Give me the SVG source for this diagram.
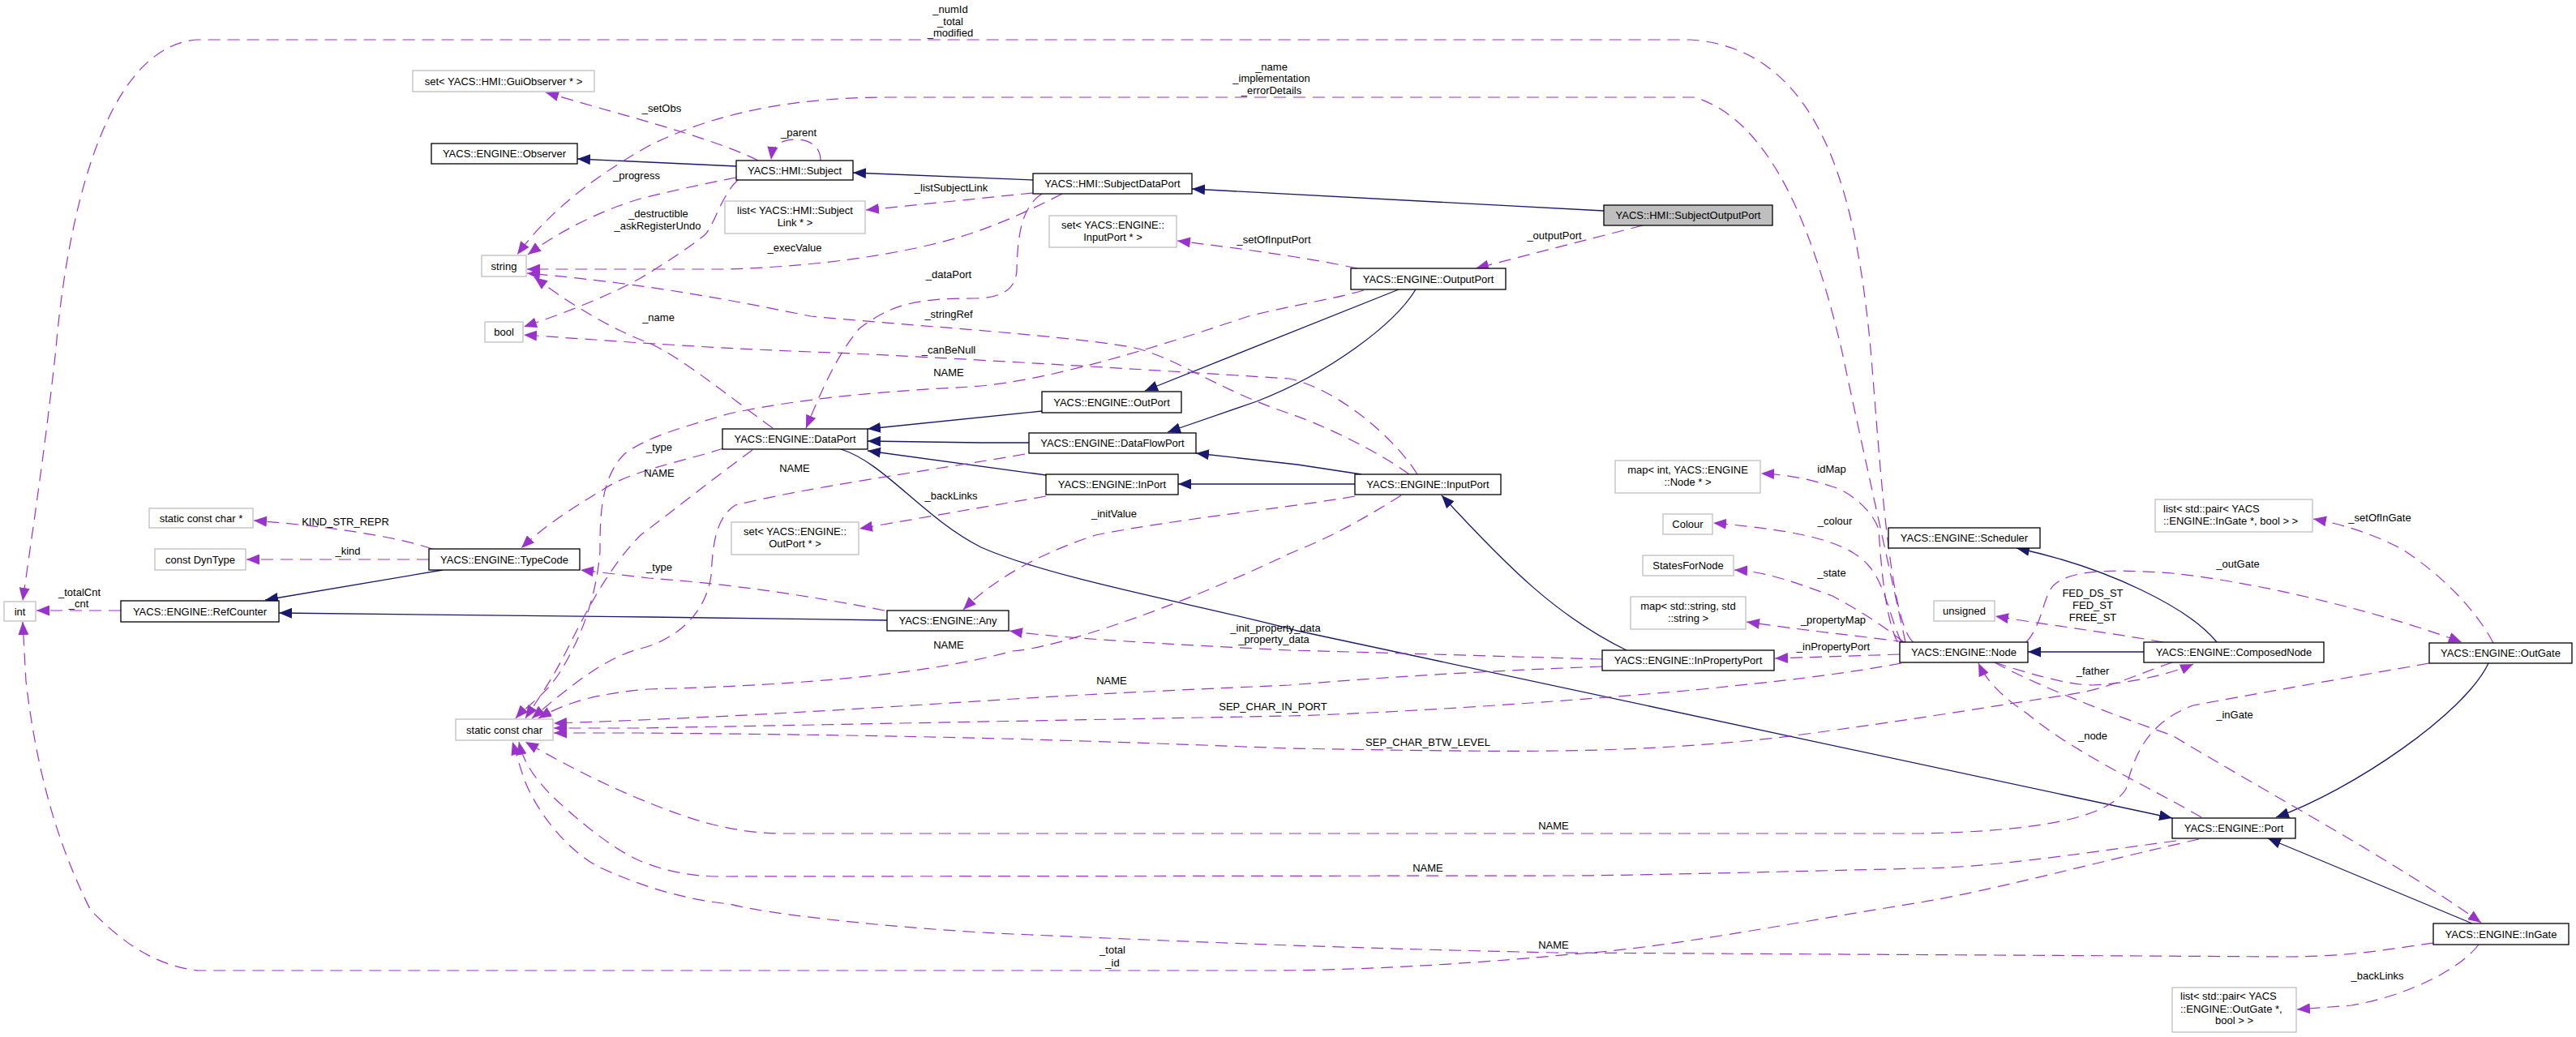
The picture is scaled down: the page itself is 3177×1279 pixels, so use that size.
<svg xmlns="http://www.w3.org/2000/svg" width="3177" height="1279" viewBox="0 0 3177 1279">
<style>
text{font-family:"Liberation Sans",Arial,sans-serif;font-size:13px;fill:#000}
.nd rect{fill:#fff;stroke:#000;stroke-width:1.3}
.gr rect{fill:#fff;stroke:#bfbfbf;stroke-width:1.3}
.hl rect{fill:#bfbfbf;stroke:#000;stroke-width:1.3}
.c{text-anchor:middle}
.inh{fill:none;stroke:#191970;stroke-width:1.3;marker-end:url(#ai)}
.use{fill:none;stroke:#9a32cd;stroke-width:1.2;stroke-dasharray:15,9;marker-end:url(#au)}
</style>
<defs>
<marker id="ai" markerUnits="userSpaceOnUse" markerWidth="17" markerHeight="13" refX="16" refY="6.5" orient="auto"><path d="M0,0 L16,6.5 L0,13 z" fill="#191970"/></marker>
<marker id="au" markerUnits="userSpaceOnUse" markerWidth="17" markerHeight="13" refX="16" refY="6.5" orient="auto"><path d="M0,0 L16,6.5 L0,13 z" fill="#9a32cd"/></marker>
</defs>
<rect width="3177" height="1279" fill="#fff"/>
<g id="connectors">
<path class="inh" d="M908,205 L800,200 L712,196"/>
<path class="inh" d="M1274,222 L1052,213"/>
<path class="inh" d="M1978,260 L1470,233"/>
<path class="inh" d="M1285,507 L1070,529"/>
<path class="inh" d="M1269,546 L1210,546 L1070,544"/>
<path class="inh" d="M1290,586 L1070,556"/>
<path class="inh" d="M1725,357 L1412,482"/>
<path class="inh" d="M1746,357 C1720,400 1640,460 1550,495 L1440,533"/>
<path class="inh" d="M1679,585 L1600,573 L1475,559"/>
<path class="inh" d="M1671,597 L1453,597"/>
<path class="inh" d="M2006,802 C1920,760 1860,700 1778,611"/>
<path class="inh" d="M546,703 L327,740"/>
<path class="inh" d="M1094,765 L800,761 L344,756"/>
<path class="inh" d="M2644,804 L2501,804"/>
<path class="inh" d="M2734,792 C2700,750 2600,700 2487,676"/>
<path class="inh" d="M1037,554 C1090,570 1140,640 1210,675 C1300,715 1500,750 1600,778 L2679,1009"/>
<path class="inh" d="M3069,818 C3040,880 2900,975 2807,1008"/>
<path class="inh" d="M3049,1139 L2797,1034"/>

<path class="use" d="M2360,792 C2330,770 2318,560 2307,430 C2290,250 2250,60 2085,49 L242,49 C120,60 80,300 69,430 C55,560 35,690 28,741"/>
<path class="use" d="M2350,792 C2330,700 2290,520 2271,430 C2240,300 2190,150 2090,120 L1096,120 C950,120 860,150 800,180 C720,225 670,270 638,314"/>
<path class="use" d="M935,198 C880,170 760,140 673,114"/>
<path class="use" d="M1012,198 C1012,178 995,172 981,172 C962,172 953,180 951,197"/>
<path class="use" d="M908,219 C860,228 810,240 790,245 C740,260 690,285 651,314"/>
<path class="use" d="M910,222 C890,240 880,280 869,290 C850,305 820,325 790,343 C750,365 700,385 646,403"/>
<path class="use" d="M1274,238 L1068,259"/>
<path class="use" d="M1310,239 C1250,270 1200,290 1147,302 C1050,325 950,330 900,332 L650,332"/>
<path class="use" d="M1285,239 C1260,255 1255,290 1254,333 C1253,360 1230,368 1200,368 C1130,368 1100,375 1060,405 C1030,440 1010,490 994,528"/>
<path class="use" d="M2026,278 L1820,331"/>
<path class="use" d="M1674,331 C1600,315 1500,303 1452,297"/>
<path class="use" d="M953,528 C900,490 840,440 800,423 C740,400 690,365 659,342"/>
<path class="use" d="M1738,585 C1690,550 1620,520 1590,510 C1500,480 1450,440 1395,428 C1300,412 1100,400 1000,390 C900,370 800,350 650,337"/>
<path class="use" d="M1748,585 C1720,540 1650,480 1590,467 C1400,455 1100,437 1000,434 C850,428 750,420 646,413"/>
<path class="use" d="M1682,358 C1640,370 1600,375 1540,390 C1450,420 1300,470 1198,477 C1100,482 994,490 900,510 C850,525 800,537 770,560 C740,590 740,640 740,680 C735,740 715,790 690,830 C670,860 650,870 636,886"/>
<path class="use" d="M892,553 C840,570 780,580 745,603 C700,630 670,650 643,676"/>
<path class="use" d="M928,555 C880,590 830,630 790,660 C750,700 720,760 700,800 C680,840 665,860 648,886"/>
<path class="use" d="M1264,560 C1150,580 1000,600 907,623 C880,640 879,680 877,710 C870,760 830,790 790,800 C750,810 710,840 656,886"/>
<path class="use" d="M1290,612 L1060,652"/>
<path class="use" d="M1671,612 C1600,625 1450,640 1351,660 C1290,680 1230,710 1188,752"/>
<path class="use" d="M1091,753 C1000,735 900,720 800,713 L716,703"/>
<path class="use" d="M1728,611 C1650,660 1620,670 1590,683 C1450,750 1300,800 1249,803 C1150,830 1000,845 800,850 C740,855 700,865 664,886"/>
<path class="use" d="M1976,813 C1800,808 1600,802 1590,802 C1450,795 1300,787 1245,778"/>
<path class="use" d="M1976,822 C1850,827 1733,833 1590,845 C1500,849 1402,853 1250,862 C1096,872 900,885 683,892"/>
<path class="use" d="M2345,818 C2250,835 2192,840 2100,850 C1900,868 1700,880 1590,883 L790,898 L683,898"/>
<path class="use" d="M2679,817 C2640,830 2600,850 2550,857 C2450,872 2380,885 2192,910 C2000,930 1886,928 1590,923 C1300,912 1147,907 790,904 L683,904"/>
<path class="use" d="M2996,818 C2900,835 2813,850 2705,870 C2650,890 2632,930 2622,973 C2600,1010 2509,1025 2370,1028 L969,1028 C900,1028 850,1010 800,990 C750,970 700,945 648,915"/>
<path class="use" d="M2684,1037 C2550,1055 2450,1070 2370,1071 C2200,1075 2000,1080 1937,1080 L882,1081 C840,1080 810,1070 790,1062 C750,1045 700,1000 679,980 C660,960 645,940 640,915"/>
<path class="use" d="M3001,1163 C2950,1170 2900,1180 2818,1180 L1917,1175 C1700,1170 1590,1167 1249,1152 C1100,1145 943,1127 900,1115 C850,1110 800,1097 740,1070 C700,1050 660,1000 645,957 L632,915"/>
<path class="use" d="M2712,1035 C2600,1060 2450,1100 2368,1113 C2200,1140 2050,1170 1937,1177 C1800,1190 1680,1196 1580,1197 L245,1197 C180,1190 140,1150 112,1123 C70,1040 45,950 32,840 L28,767"/>
<path class="use" d="M533,677 C500,665 420,650 313,642"/>
<path class="use" d="M529,690 L304,690"/>
<path class="use" d="M149,753 L45,753"/>
<path class="use" d="M2340,792 C2325,760 2320,700 2317,653 C2310,630 2280,605 2259,600 C2230,590 2200,585 2172,584"/>
<path class="use" d="M2345,792 C2330,760 2325,720 2304,697 C2280,670 2230,655 2113,645"/>
<path class="use" d="M2348,792 C2320,770 2300,757 2260,735 C2218,720 2180,705 2139,703"/>
<path class="use" d="M2350,792 C2300,785 2243,780 2154,767"/>
<path class="use" d="M2343,807 L2189,812"/>
<path class="use" d="M2668,792 C2600,780 2520,770 2461,760"/>
<path class="use" d="M2499,792 C2520,770 2520,730 2535,720 C2560,700 2620,703 2679,707 C2800,720 2950,760 3036,792"/>
<path class="use" d="M3075,793 C3054,753 3013,710 2962,677 C2920,655 2880,645 2853,640"/>
<path class="use" d="M2460,817 C2500,830 2550,845 2581,845 C2630,843 2680,830 2705,819"/>
<path class="use" d="M2715,1008 C2650,970 2560,930 2500,880 C2470,860 2450,840 2440,818"/>
<path class="use" d="M2460,817 C2500,840 2600,880 2679,907 C2800,980 2950,1060 3060,1138"/>
<path class="use" d="M3057,1165 C3030,1200 2960,1230 2900,1240 L2833,1245"/>
</g>
<g id="labels" class="c">
<text x="1172" y="16" class="c">_numId</text><text x="1172" y="31" class="c">_total</text><text x="1172" y="45" class="c">_modified</text>
<text x="1568" y="87" class="c">_name</text><text x="1568" y="101" class="c">_implementation</text><text x="1568" y="116" class="c">_errorDetails</text>
<text x="816" y="138" class="c">_setObs</text>
<text x="985" y="168" class="c">_parent</text>
<text x="785" y="221" class="c">_progress</text>
<text x="812" y="268" class="c">_destructible</text><text x="811" y="283" class="c">_askRegisterUndo</text>
<text x="1173" y="236" class="c">_listSubjectLink</text>
<text x="980" y="310" class="c">_execValue</text>
<text x="1170" y="343" class="c">_dataPort</text>
<text x="1917" y="295" class="c">_outputPort</text>
<text x="1571" y="300" class="c">_setOfInputPort</text>
<text x="812" y="396" class="c">_name</text>
<text x="1170" y="392" class="c">_stringRef</text>
<text x="1170" y="436" class="c">_canBeNull</text>
<text x="1170" y="464" class="c">NAME</text>
<text x="813" y="556" class="c">_type</text>
<text x="813" y="588" class="c">NAME</text>
<text x="980" y="582" class="c">NAME</text>
<text x="1173" y="616" class="c">_backLinks</text>
<text x="1374" y="638" class="c">_initValue</text>
<text x="813" y="704" class="c">_type</text>
<text x="1170" y="800" class="c">NAME</text>
<text x="1573" y="779" class="c">_init_property_data</text><text x="1571" y="793" class="c">_property_data</text>
<text x="1371" y="844" class="c">NAME</text>
<text x="1570" y="876" class="c">SEP_CHAR_IN_PORT</text>
<text x="1761" y="920" class="c">SEP_CHAR_BTW_LEVEL</text>
<text x="1916" y="1023" class="c">NAME</text>
<text x="1761" y="1075" class="c">NAME</text>
<text x="1916" y="1170" class="c">NAME</text>
<text x="1372" y="1176" class="c">_total</text><text x="1372" y="1192" class="c">_id</text>
<text x="426" y="648" class="c">KIND_STR_REPR</text>
<text x="429" y="684" class="c">_kind</text>
<text x="98" y="735" class="c">_totalCnt</text><text x="97" y="749" class="c">_cnt</text>
<text x="2259" y="583" class="c">idMap</text>
<text x="2263" y="647" class="c">_colour</text>
<text x="2259" y="711" class="c">_state</text>
<text x="2261" y="769" class="c">_propertyMap</text>
<text x="2261" y="802" class="c">_inPropertyPort</text>
<text x="2581" y="736" class="c">FED_DS_ST</text><text x="2581" y="751" class="c">FED_ST</text><text x="2581" y="766" class="c">FREE_ST</text>
<text x="2760" y="700" class="c">_outGate</text>
<text x="2935" y="643" class="c">_setOfInGate</text>
<text x="2581" y="832" class="c">_father</text>
<text x="2581" y="912" class="c">_node</text>
<text x="2756" y="886" class="c">_inGate</text>
<text x="2932" y="1208" class="c">_backLinks</text>
</g>
<g id="n_setGuiObs" class="gr"><rect x="509" y="87" width="224" height="26"/><text x="621" y="104.5" class="c">set&lt; YACS::HMI::GuiObserver * &gt;</text></g>
<g id="n_observer" class="nd"><rect x="532" y="177" width="180" height="25"/><text x="622" y="194" class="c">YACS::ENGINE::Observer</text></g>
<g id="n_string" class="gr"><rect x="594" y="315" width="55" height="26"/><text x="621.5" y="332.5" class="c">string</text></g>
<g id="n_bool" class="gr"><rect x="598" y="397" width="47" height="25"/><text x="621.5" y="414" class="c">bool</text></g>
<g id="n_subject" class="nd"><rect x="908" y="198" width="144" height="24"/><text x="980" y="214.5" class="c">YACS::HMI::Subject</text></g>
<g id="n_subjectDataPort" class="nd"><rect x="1274" y="214" width="196" height="25"/><text x="1372" y="231" class="c">YACS::HMI::SubjectDataPort</text></g>
<g id="n_listSubjectLink" class="gr"><rect x="894" y="248" width="173" height="40"/><text x="980.5" y="264" class="c">list&lt; YACS::HMI::Subject</text><text x="980.5" y="279" class="c">Link * &gt;</text></g>
<g id="n_setInputPort" class="gr"><rect x="1294" y="266" width="157" height="39"/><text x="1372.5" y="281.5" class="c">set&lt; YACS::ENGINE::</text><text x="1372.5" y="296.5" class="c">InputPort * &gt;</text></g>
<g id="n_subjectOutputPort" class="hl"><rect x="1978" y="253" width="208" height="25"/><text x="2082" y="270" class="c">YACS::HMI::SubjectOutputPort</text></g>
<g id="n_outputPort" class="nd"><rect x="1666" y="331" width="191" height="26"/><text x="1761.5" y="348.5" class="c">YACS::ENGINE::OutputPort</text></g>
<g id="n_outPort" class="nd"><rect x="1285" y="483" width="172" height="26"/><text x="1371" y="500.5" class="c">YACS::ENGINE::OutPort</text></g>
<g id="n_dataPort" class="nd"><rect x="891" y="529" width="179" height="25"/><text x="980.5" y="546" class="c">YACS::ENGINE::DataPort</text></g>
<g id="n_dataFlowPort" class="nd"><rect x="1269" y="534" width="206" height="25"/><text x="1372" y="551" class="c">YACS::ENGINE::DataFlowPort</text></g>
<g id="n_inPort" class="nd"><rect x="1290" y="585" width="163" height="25"/><text x="1371.5" y="602" class="c">YACS::ENGINE::InPort</text></g>
<g id="n_setOutPort" class="gr"><rect x="902" y="644" width="157" height="40"/><text x="980.5" y="660" class="c">set&lt; YACS::ENGINE::</text><text x="980.5" y="675" class="c">OutPort * &gt;</text></g>
<g id="n_inputPort" class="nd"><rect x="1671" y="585" width="180" height="25"/><text x="1761" y="602" class="c">YACS::ENGINE::InputPort</text></g>
<g id="n_any" class="nd"><rect x="1094" y="753" width="150" height="25"/><text x="1169" y="770" class="c">YACS::ENGINE::Any</text></g>
<g id="n_staticConstCharPtr" class="gr"><rect x="184" y="627" width="128" height="24"/><text x="248" y="643.5" class="c">static const char *</text></g>
<g id="n_constDynType" class="gr"><rect x="191" y="677" width="112" height="26"/><text x="247" y="694.5" class="c">const DynType</text></g>
<g id="n_typeCode" class="nd"><rect x="529" y="677" width="186" height="26"/><text x="622" y="694.5" class="c">YACS::ENGINE::TypeCode</text></g>
<g id="n_int" class="gr"><rect x="5" y="742" width="39" height="24"/><text x="24.5" y="758.5" class="c">int</text></g>
<g id="n_refCounter" class="nd"><rect x="149" y="741" width="195" height="26"/><text x="246.5" y="758.5" class="c">YACS::ENGINE::RefCounter</text></g>
<g id="n_staticConstChar" class="gr"><rect x="562" y="887" width="120" height="26"/><text x="622" y="904.5" class="c">static const char</text></g>
<g id="n_mapIntNode" class="gr"><rect x="1992" y="568" width="179" height="40"/><text x="2081.5" y="584" class="c">map&lt; int, YACS::ENGINE</text><text x="2081.5" y="599" class="c">::Node * &gt;</text></g>
<g id="n_colour" class="gr"><rect x="2051" y="634" width="61" height="25"/><text x="2081.5" y="651" class="c">Colour</text></g>
<g id="n_statesForNode" class="gr"><rect x="2026" y="685" width="112" height="25"/><text x="2082" y="702" class="c">StatesForNode</text></g>
<g id="n_mapStrStr" class="gr"><rect x="2011" y="736" width="142" height="40"/><text x="2082" y="752" class="c">map&lt; std::string, std</text><text x="2082" y="767" class="c">::string &gt;</text></g>
<g id="n_inPropertyPort" class="nd"><rect x="1976" y="802" width="212" height="25"/><text x="2082" y="819" class="c">YACS::ENGINE::InPropertyPort</text></g>
<g id="n_node" class="nd"><rect x="2343" y="792" width="158" height="25"/><text x="2422" y="809" class="c">YACS::ENGINE::Node</text></g>
<g id="n_scheduler" class="nd"><rect x="2329" y="651" width="187" height="25"/><text x="2422.5" y="668" class="c">YACS::ENGINE::Scheduler</text></g>
<g id="n_listInGate" class="gr"><rect x="2658" y="616" width="194" height="40"/><text x="2668" y="632">list&lt; std::pair&lt; YACS</text><text x="2668" y="647">::ENGINE::InGate *, bool &gt; &gt;</text></g>
<g id="n_unsigned" class="gr"><rect x="2385" y="741" width="75" height="25"/><text x="2422.5" y="758" class="c">unsigned</text></g>
<g id="n_composedNode" class="nd"><rect x="2644" y="792" width="222" height="25"/><text x="2755" y="809" class="c">YACS::ENGINE::ComposedNode</text></g>
<g id="n_outGate" class="nd"><rect x="2996" y="793" width="176" height="25"/><text x="3084" y="810" class="c">YACS::ENGINE::OutGate</text></g>
<g id="n_port" class="nd"><rect x="2679" y="1009" width="152" height="25"/><text x="2755" y="1026" class="c">YACS::ENGINE::Port</text></g>
<g id="n_inGate" class="nd"><rect x="3001" y="1139" width="167" height="26"/><text x="3084.5" y="1156.5" class="c">YACS::ENGINE::InGate</text></g>
<g id="n_listOutGate" class="gr"><rect x="2679" y="1218" width="153" height="55"/><text x="2689" y="1232.5">list&lt; std::pair&lt; YACS</text><text x="2689" y="1248.5">::ENGINE::OutGate *,</text><text x="2755.5" y="1262.5" class="c">bool &gt; &gt;</text></g>
</svg>
